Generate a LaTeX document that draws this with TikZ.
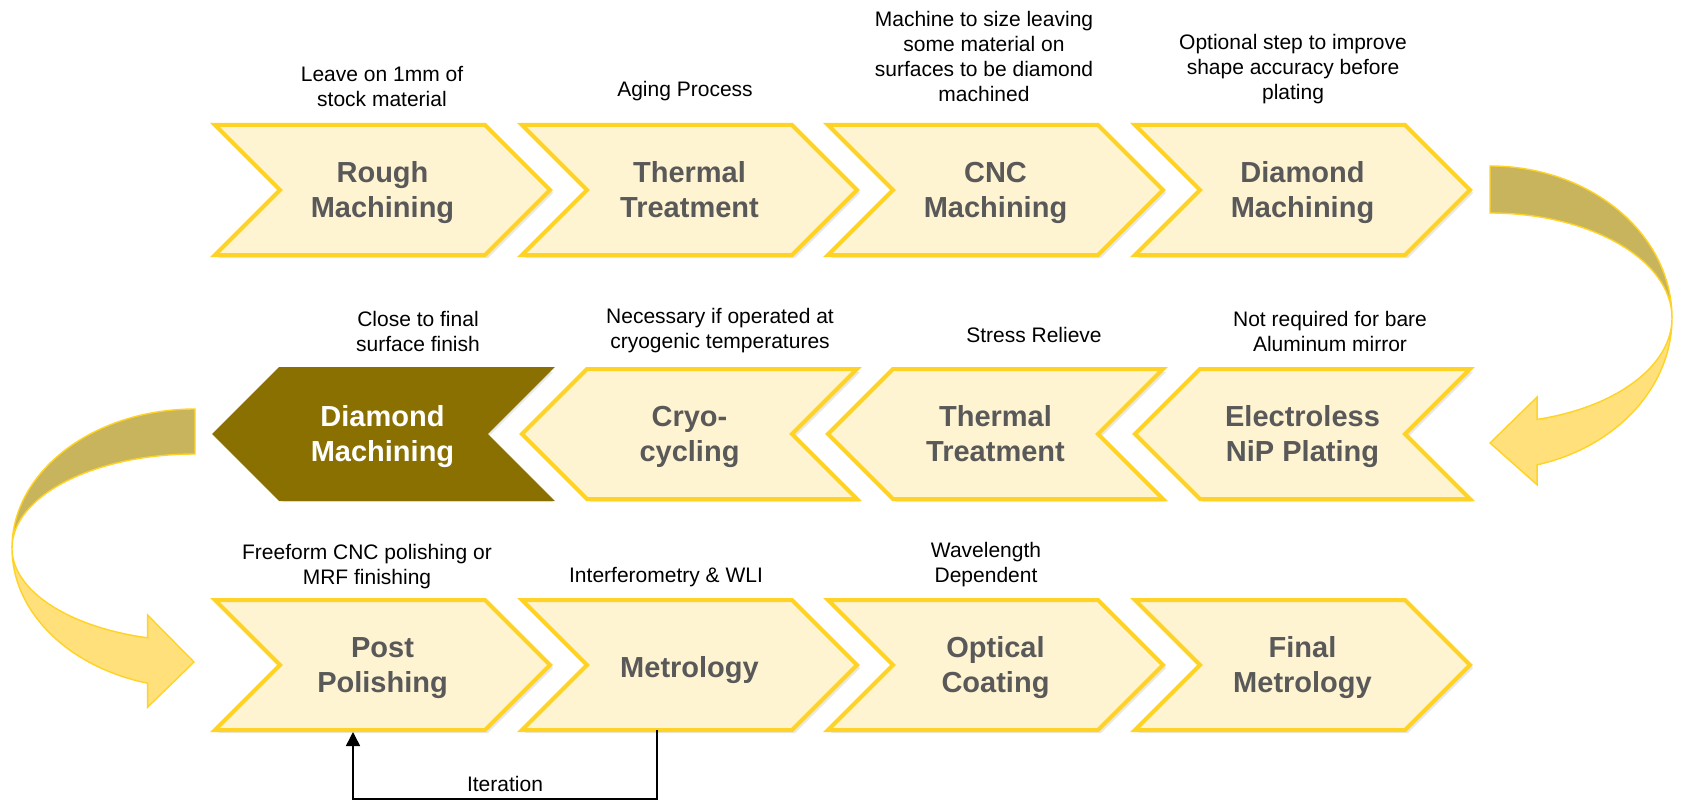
\documentclass[tikz,border=0pt]{standalone}
\usepackage{fontspec}
\setmainfont{Liberation Sans}
\usetikzlibrary{arrows.meta,shadows}
\definecolor{chevfill}{HTML}{FFF4D2}
\definecolor{chevline}{HTML}{FFD326}
\definecolor{steptext}{HTML}{595959}
\definecolor{darkgold}{HTML}{8A7000}
\definecolor{backgold}{HTML}{C8B45C}
\definecolor{frontgold}{HTML}{FFE07A}
\tikzset{
  >={Triangle[length=7pt,width=7pt]},
  softshadow/.style={drop shadow={opacity=0.18, shadow xshift=1.5pt, shadow yshift=-1.5pt}},
  chev/.style={fill=chevfill, draw=chevline, line width=2pt, softshadow},
  chevdark/.style={chev, fill=darkgold, draw=darkgold},
  ribbon/.style={draw=chevline, line width=0.7pt, softshadow},
  steptxt/.style={font=\fontsize{14.5}{17.5}\selectfont\bfseries, text=steptext, align=center,
    execute at begin node=\strut, execute at end node=\strut},
  note/.style={font=\fontsize{10.5}{12.5}\selectfont, align=center},
}

\begin{document}
\begin{tikzpicture}[x=0.5pt,y=0.5pt]
  \useasboundingbox (0,0) rectangle (1684,-802);

  % first row, left to right
  \foreach \x/\nm/\lbl in {215/rough/{Rough\\Machining}, 522/thermA/{Thermal\\Treatment},
                           828/cnc/{CNC\\Machining}, 1135/diamA/{Diamond\\Machining}}{
    \draw[chev] (\x,-125) -- ++(270,0) -- ++(65,-65) -- ++(-65,-65) -- ++(-270,0) -- ++(65,65) -- cycle;
    \node[steptxt] (\nm) at (\x+167.5,-195) {\lbl};
  }
  \node[note] (leave) at (382,-87) {Leave on 1mm of\\stock material};
  \node[note] (aging) at (685,-91) {Aging Process};
  \node[note] (tosize) at (984,-56) {Machine to size leaving\\some material on\\surfaces to be diamond\\machined};
  \node[note] (optional) at (1293,-69) {Optional step to improve\\shape accuracy before\\plating};

  % turn down on the right
  \begin{scope}[ribbon]
    \draw[fill=backgold] (1490,-166) arc[start angle=90, end angle=0, x radius=182, y radius=152]
      arc[start angle=0, end angle=90, x radius=182, y radius=105] -- cycle;
    \draw[fill=frontgold] (1672,-318) arc[start angle=0, end angle=-75, x radius=182, y radius=152]
      -- ++(0,-20) -- (1490,-443) -- (1537.1,-397) -- (1537.1,-419.4)
      arc[start angle=-75, end angle=0, x radius=182, y radius=105] -- cycle;
  \end{scope}

  % second row, right to left
  \draw[chevdark] (215,-434) -- ++(65,65) -- ++(270,0) -- ++(-65,-65) -- ++(65,-65) -- ++(-270,0) -- cycle;
  \node[steptxt, text=white] (diamB) at (382.5,-439) {Diamond\\Machining};
  \foreach \x/\nm/\lbl in {522/cryo/{Cryo-\\cycling}, 828/thermB/{Thermal\\Treatment},
                           1135/nip/{Electroless\\NiP Plating}}{
    \draw[chev] (\x,-434) -- ++(65,65) -- ++(270,0) -- ++(-65,-65) -- ++(65,-65) -- ++(-270,0) -- cycle;
    \node[steptxt] (\nm) at (\x+167.5,-439) {\lbl};
  }
  \node[note] (close) at (418,-331) {Close to final\\surface finish};
  \node[note] (cryonote) at (720,-331) {Necessary if operated at\\cryogenic temperatures};
  \node[note] (stress) at (1034,-335) {Stress Relieve};
  \node[note] (bare) at (1330,-331) {Not required for bare\\Aluminum mirror};

  % turn down on the left
  \begin{scope}[ribbon]
    \draw[fill=backgold] (195,-409) arc[start angle=90, end angle=180, x radius=183, y radius=139]
      arc[start angle=180, end angle=90, x radius=183, y radius=94] -- cycle;
    \draw[fill=frontgold] (12,-548) arc[start angle=180, end angle=255, x radius=183, y radius=140]
      -- ++(0,-24) -- (194,-662) -- (147.6,-615) -- (147.6,-637.8)
      arc[start angle=255, end angle=180, x radius=183, y radius=93] -- cycle;
  \end{scope}

  % third row, left to right
  \foreach \x/\nm/\lbl in {215/post/{Post\\Polishing}, 522/metro/{Metrology},
                           828/coat/{Optical\\Coating}, 1135/final/{Final\\Metrology}}{
    \draw[chev] (\x,-600) -- ++(270,0) -- ++(65,-65) -- ++(-65,-65) -- ++(-270,0) -- ++(65,65) -- cycle;
    \node[steptxt] (\nm) at (\x+167.5,-670) {\lbl};
  }
  \node[note] (freeform) at (367,-567) {Freeform CNC polishing or\\MRF finishing};
  \node[note] (interf) at (666,-577) {Interferometry \& WLI};
  \node[note] (wave) at (986,-565) {Wavelength\\Dependent};

  % iteration loop
  \coordinate (itS) at (657,-730);
  \coordinate (itE) at (353,-732);
  \draw[->, line width=0.75pt] (itS) -- ++(0,-69) -| node[pos=0.25, above, note] {Iteration} (itE);
\end{tikzpicture}
\end{document}
